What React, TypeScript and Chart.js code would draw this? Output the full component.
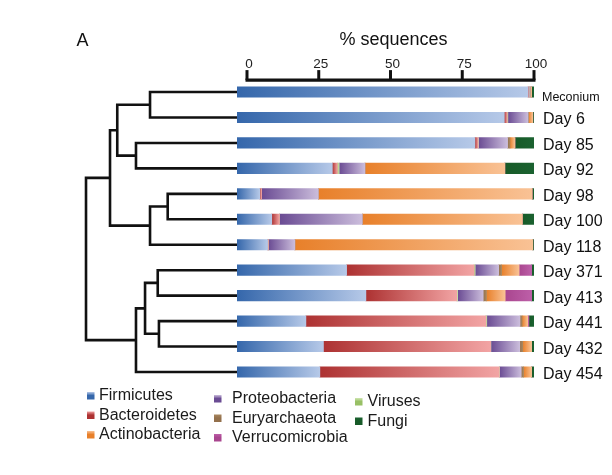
import { useEffect, useRef } from "react";
import { Chart, registerables } from "chart.js";

Chart.register(...registerables);

// ---------- data ----------
const categories = [
  "Meconium", "Day 6", "Day 85", "Day 92", "Day 98", "Day 100",
  "Day 118", "Day 371", "Day 413", "Day 441", "Day 432", "Day 454",
];

const firmicutes = [98.0, 90.0, 80.1, 32.1, 7.7, 11.7, 10.3, 36.9, 43.4, 23.2, 29.1, 27.9];
const bacteroidetes = [0.3, 1.0, 1.1, 1.7, 0.6, 2.6, 0.3, 42.9, 30.6, 60.6, 56.3, 60.4];
const viruses = [0.1, 0.2, 0.1, 0.6, 0, 0, 0, 0.4, 0.3, 0.3, 0.1, 0.1];
const proteobacteria = [0.3, 6.8, 9.8, 8.7, 19.1, 27.9, 8.9, 7.9, 8.6, 11.2, 9.7, 7.3];
const euryarchaeota = [0, 0.2, 0.8, 0, 0, 0, 0, 1.0, 1.1, 0.7, 1.0, 0.8];
const actinobacteria = [0.5, 1.4, 1.7, 47.1, 72.0, 53.9, 80.1, 5.9, 6.3, 1.9, 3.0, 2.7];
const verrucomicrobia = [0, 0, 0, 0, 0, 0, 0, 4.2, 8.9, 0.4, 0, 0];
const fungi = [0.8, 0.4, 6.4, 9.8, 0.6, 3.9, 0.4, 0.8, 0.8, 1.7, 0.8, 0.8];

const seriesNames = [
  "Firmicutes", "Bacteroidetes", "Viruses", "Proteobacteria",
  "Euryarchaeota", "Actinobacteria", "Verrucomicrobia", "Fungi",
];
const seriesValues = [
  firmicutes, bacteroidetes, viruses, proteobacteria,
  euryarchaeota, actinobacteria, verrucomicrobia, fungi,
];

const tickValues = [0, 25, 50, 75, 100];
const axisTitle = "% sequences";
const panelLabel = "A";

// dendrogram merges: node ids 0..11 are leaves, merges get ids 12, 13, ...
const mergeLeft = [0, 2, 12, 4, 15, 14, 7, 9, 18, 20, 17];
const mergeRight = [1, 3, 13, 5, 6, 16, 8, 10, 19, 11, 21];
const mergeHeight = [0.576, 0.669, 0.793, 0.459, 0.576, 0.841, 0.525, 0.517, 0.609, 0.669, 1.0];

const legendColumns = [
  ["Firmicutes", "Bacteroidetes", "Actinobacteria"],
  ["Proteobacteria", "Euryarchaeota", "Verrucomicrobia"],
  ["Viruses", "Fungi"],
];

// ---------- styles ----------
const seriesColors: Record<string, [string, string]> = {
  Firmicutes: ["#3567ab", "#b6c9e8"],
  Bacteroidetes: ["#ad3232", "#f2a4a4"],
  Viruses: ["#98c065", "#cfe6b2"],
  Proteobacteria: ["#6a4b93", "#cbbddc"],
  Euryarchaeota: ["#93704c", "#a8875f"],
  Actinobacteria: ["#e8802a", "#f9c295"],
  Verrucomicrobia: ["#a9468f", "#bd5fa8"],
  Fungi: ["#175a28", "#1b6230"],
};

const FONT = '"Liberation Sans", Arial, Helvetica, sans-serif';

function segmentFill(di: number) {
  const name = seriesNames[di];
  return (ctx: any) => {
    const chart = ctx.chart;
    const [dark, light] = seriesColors[name];
    if (ctx.type !== "data" || !chart.chartArea) return dark;
    const i = ctx.dataIndex;
    let start = 0;
    for (let k = 0; k < di; k++) start += seriesValues[k][i];
    const end = start + seriesValues[di][i];
    const xs = chart.scales.x;
    const x0 = xs.getPixelForValue(start);
    const x1 = xs.getPixelForValue(end);
    if (!(x1 > x0)) return dark;
    const g = chart.ctx.createLinearGradient(x0, 0, x1, 0);
    g.addColorStop(0, dark);
    g.addColorStop(1, light);
    return g;
  };
}

const decorPlugin = {
  id: "decor",
  afterDraw(chart: any) {
    const ctx = chart.ctx as CanvasRenderingContext2D;
    const ys = chart.scales.y;
    const xd = chart.scales.xd;
    const x2 = chart.scales.x2;
    const area = chart.chartArea;

    ctx.save();
    // dendrogram
    const pos: { x: number; y: number }[] = categories.map((_, i) => ({
      x: xd.getPixelForValue(0),
      y: ys.getPixelForValue(i),
    }));
    ctx.strokeStyle = "#111";
    ctx.lineWidth = 2.6;
    ctx.lineCap = "butt";
    ctx.lineJoin = "miter";
    mergeLeft.forEach((l, k) => {
      const r = mergeRight[k];
      const mx = xd.getPixelForValue(mergeHeight[k]);
      const a = pos[l];
      const b = pos[r];
      ctx.beginPath();
      ctx.moveTo(a.x, a.y);
      ctx.lineTo(mx, a.y);
      ctx.lineTo(mx, b.y);
      ctx.lineTo(b.x, b.y);
      ctx.stroke();
      pos.push({ x: mx, y: (a.y + b.y) / 2 });
    });

    // top axis
    const axisY = area.top + 0.8;
    const x0 = x2.getPixelForValue(tickValues[0]);
    const x1 = x2.getPixelForValue(tickValues[tickValues.length - 1]);
    ctx.lineWidth = 3.4;
    ctx.beginPath();
    ctx.moveTo(x0 - 1.5, axisY);
    ctx.lineTo(x1 + 1.5, axisY);
    ctx.stroke();
    ctx.lineWidth = 3;
    ctx.fillStyle = "#222";
    ctx.font = `13.5px ${FONT}`;
    ctx.textAlign = "center";
    ctx.textBaseline = "alphabetic";
    tickValues.forEach((v) => {
      const px = x2.getPixelForValue(v);
      ctx.beginPath();
      ctx.moveTo(px, axisY);
      ctx.lineTo(px, axisY - 10);
      ctx.stroke();
      ctx.fillText(String(v), px + 2, axisY - 12.5);
    });
    ctx.font = `18px ${FONT}`;
    ctx.fillStyle = "#111";
    ctx.fillText(axisTitle, x2.getPixelForValue(50) + 3, axisY - 35.5);

    // panel label
    ctx.textAlign = "left";
    ctx.font = `18px ${FONT}`;
    ctx.fillText(panelLabel, 76.5, 45.5);

    // category labels
    const labelX = area.right + 9;
    categories.forEach((c, i) => {
      const y = ys.getPixelForValue(i);
      if (i === 0) {
        ctx.font = `12.5px ${FONT}`;
        ctx.fillText(c, labelX - 1, y + 9);
      } else {
        ctx.font = `16px ${FONT}`;
        ctx.fillText(c, labelX, y + 7);
      }
    });

    // legend
    const colX = [87, 214, 355];
    const textX = [99, 232, 367.5];
    const colTop = [395.5, 398.5, 401.5];
    const rowGap = 19.5;
    ctx.font = `16px ${FONT}`;
    ctx.textBaseline = "middle";
    legendColumns.forEach((col, ci) => {
      col.forEach((name, ri) => {
        const cy = colTop[ci] + ri * rowGap;
        const [dark, light] = seriesColors[name];
        const g = ctx.createLinearGradient(0, cy - 3.5, 0, cy + 3.5);
        g.addColorStop(0, light);
        g.addColorStop(0.5, dark);
        g.addColorStop(1, dark);
        ctx.fillStyle = g;
        ctx.fillRect(colX[ci], cy - 3.5, 7.5, 7.5);
        ctx.fillStyle = "#1a1a1a";
        ctx.fillText(name, textX[ci], cy + 0.5);
      });
    });
    ctx.restore();
  },
};

export default function App() {
  const ref = useRef<HTMLCanvasElement | null>(null);
  useEffect(() => {
    if (!ref.current) return;
    const chart = new Chart(ref.current, {
      type: "bar",
      data: {
        labels: categories,
        datasets: seriesNames.map((name, di) => ({
          label: name,
          data: seriesValues[di],
          backgroundColor: segmentFill(di),
          borderWidth: 0,
          barThickness: 10.5,
        })),
      },
      options: {
        indexAxis: "y",
        animation: false,
        responsive: false,
        events: [],
        layout: { padding: { left: 237, right: 78, top: 79.3, bottom: 90.3 } },
        plugins: { legend: { display: false }, tooltip: { enabled: false }, title: { display: false } },
        scales: {
          x: { type: "linear", stacked: true, min: 0, max: 100, display: false },
          y: { type: "category", stacked: true, display: false, offset: true },
          x2: { type: "linear", axis: "x", min: -3.484, max: 100, display: false },
          xd: { type: "linear", axis: "x", reverse: true, min: -1.967, max: 0, display: false },
        },
      } as any,
      plugins: [decorPlugin],
    });
    return () => chart.destroy();
  }, []);
  return (
    <div style={{ position: "fixed", left: 0, top: 0, width: 612, height: 475, background: "#fff" }}>
      <canvas ref={ref} width={612} height={475} />
    </div>
  );
}
